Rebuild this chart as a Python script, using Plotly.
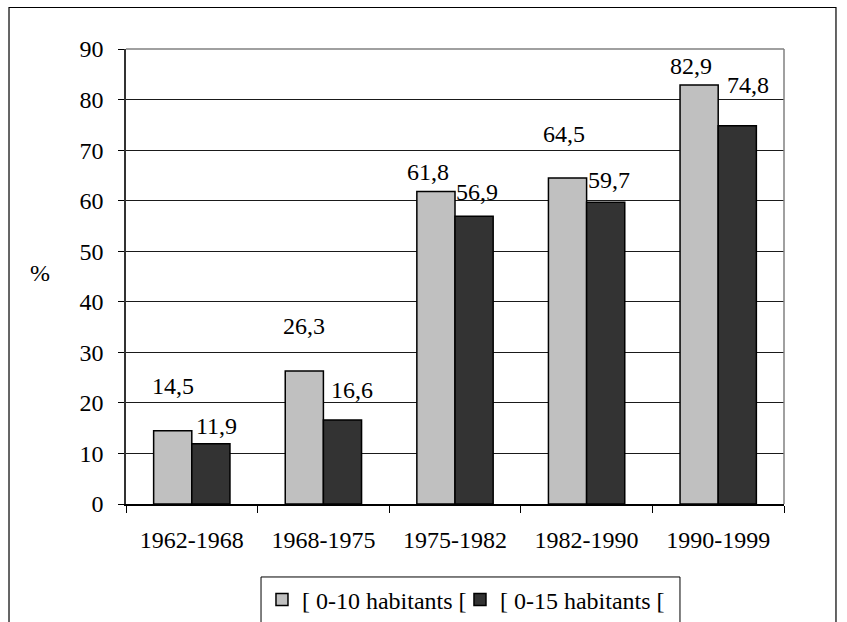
import plotly.graph_objects as go

categories = ["1962-1968", "1968-1975", "1975-1982", "1982-1990", "1990-1999"]
series_a_name = "[ 0-10 habitants ["
series_a = [14.5, 26.3, 61.8, 64.5, 82.9]
series_b_name = "[ 0-15 habitants ["
series_b = [11.9, 16.6, 56.9, 59.7, 74.8]
y_ticks = [0, 10, 20, 30, 40, 50, 60, 70, 80, 90]

# label offsets (style): pixel shifts of the value labels
shift_a = [(0, 45), (0, 45), (-8, 20), (-4, 44), (-8, 19)]
shift_b = [(6, 18), (10, 30), (3, 24), (3, 22), (11, 41)]

FONT = "Liberation Serif"
FS = 24

fig = go.Figure()
fig.add_trace(go.Bar(x=categories, y=series_a, name=series_a_name, legendwidth=153,
                     marker=dict(color="#C0C0C0", line=dict(color="#000000", width=1.5))))
fig.add_trace(go.Bar(x=categories, y=series_b, name=series_b_name, legendwidth=172,
                     marker=dict(color="#333333", line=dict(color="#000000", width=1.5))))

def fmt(v):
    return f"{v:.1f}".replace(".", ",")

bar_off = 19  # half bar width in px
annotations = []
for cat, v, (dx, dy) in zip(categories, series_a, shift_a):
    annotations.append(dict(x=cat, y=v, xref="x", yref="y", text=fmt(v), showarrow=False,
                            xshift=-bar_off + dx, yshift=dy, font=dict(family=FONT, size=FS, color="black")))
for cat, v, (dx, dy) in zip(categories, series_b, shift_b):
    annotations.append(dict(x=cat, y=v, xref="x", yref="y", text=fmt(v), showarrow=False,
                            xshift=bar_off + dx, yshift=dy, font=dict(family=FONT, size=FS, color="black")))
annotations.append(dict(x=-0.1307, y=0.508, xref="paper", yref="paper", text="%", showarrow=False,
                        xanchor="center", yanchor="middle", font=dict(family=FONT, size=FS, color="black")))

shapes = [
    # outer frame
    dict(type="rect", xref="paper", yref="paper", x0=-0.1778, x1=1.079, y0=-0.4, y1=1.0912,
         line=dict(color="black", width=1.2), layer="below"),
    # plot area border (gray) top and right
    dict(type="line", xref="paper", yref="paper", x0=0, x1=1, y0=1, y1=1,
         line=dict(color="#808080", width=1.5), layer="above"),
    dict(type="line", xref="paper", yref="paper", x0=1, x1=1, y0=0, y1=1,
         line=dict(color="#808080", width=1.5), layer="above"),
    # legend box (extends past the bottom edge as in the original)
    dict(type="rect", xref="paper", yref="paper", x0=0.2052, x1=0.8419, y0=-0.27, y1=-0.1604,
         line=dict(color="black", width=1), fillcolor="white", layer="below"),
]

fig.update_layout(
    width=847, height=622,
    margin=dict(l=126, r=63, t=49, b=118, autoexpand=False),
    paper_bgcolor="white", plot_bgcolor="white",
    font=dict(family=FONT, size=FS, color="black"),
    barmode="group", bargap=0.42, bargroupgap=0,
    showlegend=True,
    legend=dict(orientation="h", xref="container", yref="container",
                x=0.3093, xanchor="left", y=0.0354, yanchor="middle",
                bgcolor="rgba(0,0,0,0)", borderwidth=0,
                font=dict(family=FONT, size=FS, color="black"), traceorder="normal"),
    annotations=annotations,
    shapes=shapes,
    xaxis=dict(type="category", showgrid=False, showline=True, linecolor="black", linewidth=1.5,
               ticks="outside", tickson="boundaries", ticklen=7, tickcolor="black", tickwidth=1,
               ticklabelstandoff=13, tickfont=dict(family=FONT, size=FS, color="black"),
               zeroline=False, automargin=False),
    yaxis=dict(range=[0, 90], tickvals=y_ticks, showgrid=True, gridcolor="#1a1a1a", gridwidth=1,
               showline=True, linecolor="#333333", linewidth=1.5,
               ticks="outside", ticklen=6, tickcolor="black", tickwidth=1,
               ticklabelstandoff=10, tickfont=dict(family=FONT, size=FS, color="black"),
               zeroline=False, automargin=False),
)

fig.write_html("out.html", config={"displayModeBar": False},
               post_script="document.body.style.margin='0';document.body.style.overflow='hidden';")
